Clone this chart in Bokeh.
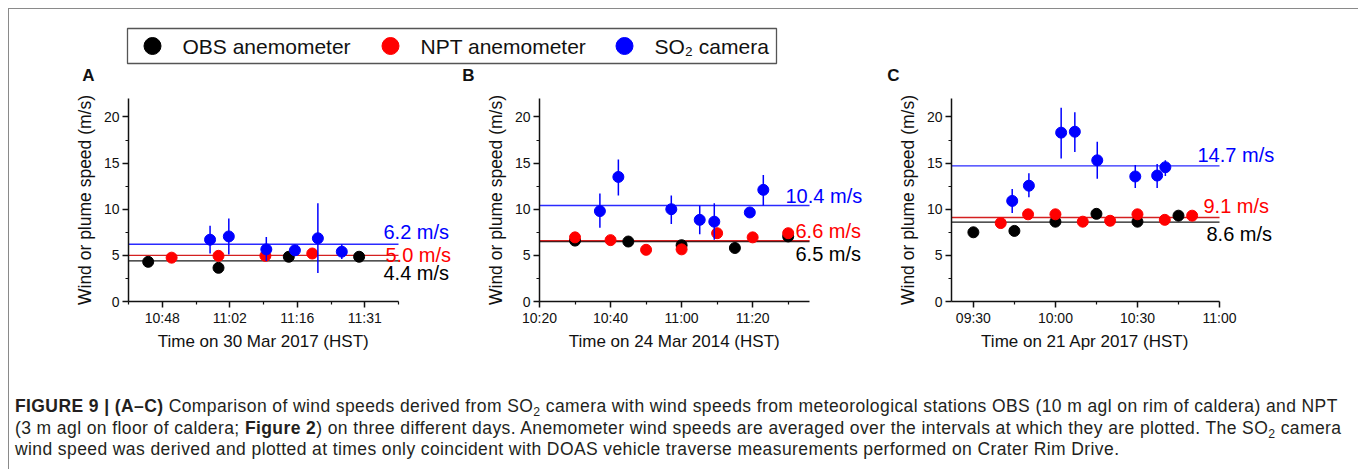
from bokeh.plotting import figure
from bokeh.models import Range1d, FixedTicker, LabelSet, ColumnDataSource, Div, Title
from bokeh.layouts import column, row
from bokeh.embed import file_html
from bokeh.resources import INLINE
from bokeh.core.properties import value

FONT = "Liberation Sans"

# ---------------- data ----------------
series_names = ["OBS anemometer", "NPT anemometer", "SO\u2082 camera"]
series_colors = ["#000000", "#ff0000", "#0000ff"]
mean_line_colors = ["#1a1a1a", "#d42020", "#2a2aff"]
panel_letters = ["A", "B", "C"]

# Panel A : 30 Mar 2017, time in minutes after midnight (HST)
a_obs_t = [645, 660, 675, 690]
a_obs_v = [4.3, 3.65, 4.85, 4.85]
a_npt_t = [650, 660, 670, 680]
a_npt_v = [4.75, 4.95, 4.95, 5.2]
a_cam_t = [658.2, 662.2, 670.2, 676.3, 681.2, 686.3]
a_cam_v = [6.7, 7.05, 5.65, 5.55, 6.85, 5.4]
a_cam_lo = [5.2, 5.1, 4.4, 5.2, 3.1, 4.6]
a_cam_hi = [8.2, 9.0, 7.0, 5.9, 10.65, 6.2]
a_means = [4.4, 5.0, 6.2]
a_range = [640.8, 698.4]
a_ticks = [648.0, 662.4, 676.8, 691.2]
a_minor = [640.8, 655.2, 669.6, 684.0, 698.4]
a_tick_labels = ["10:48", "11:02", "11:16", "11:31"]
a_xlabel = "Time on 30 Mar 2017 (HST)"

# Panel B : 24 Mar 2014
b_obs_t = [630, 645, 660, 675, 690]
b_obs_v = [6.6, 6.5, 6.1, 5.8, 7.05]
b_npt_t = [630, 640, 650, 660, 670, 680, 690]
b_npt_v = [6.95, 6.65, 5.6, 5.65, 7.4, 6.95, 7.4]
b_cam_t = [637.0, 642.2, 657.1, 665.1, 669.2, 679.2, 683.0]
b_cam_v = [9.8, 13.5, 10.0, 8.85, 8.65, 9.65, 12.1]
b_cam_lo = [8.0, 11.5, 8.4, 7.3, 6.7, 9.2, 10.4]
b_cam_hi = [11.7, 15.4, 11.5, 10.4, 10.65, 10.1, 13.7]
b_means = [6.5, 6.6, 10.4]
b_range = [620, 696]
b_ticks = [620, 640, 660, 680]
b_minor = [630, 650, 670, 690]
b_tick_labels = ["10:20", "10:40", "11:00", "11:20"]
b_xlabel = "Time on 24 Mar 2014 (HST)"

# Panel C : 21 Apr 2017
c_obs_t = [570, 585, 600, 615, 630, 645]
c_obs_v = [7.5, 7.65, 8.65, 9.5, 8.65, 9.3]
c_npt_t = [580, 590, 600, 610, 620, 630, 640, 650]
c_npt_v = [8.5, 9.45, 9.45, 8.65, 8.75, 9.45, 8.85, 9.3]
c_cam_t = [584.2, 590.3, 602.1, 607.1, 615.3, 629.2, 637.2, 640.2]
c_cam_v = [10.9, 12.55, 18.3, 18.4, 15.3, 13.55, 13.65, 14.55]
c_cam_lo = [9.6, 11.3, 15.5, 16.2, 13.3, 12.3, 12.3, 13.6]
c_cam_hi = [12.2, 13.9, 21.0, 20.5, 17.3, 14.8, 14.9, 15.3]
c_means = [8.6, 9.1, 14.7]
c_range = [562, 660]
c_ticks = [570, 600, 630, 660]
c_minor = [585, 615, 645]
c_tick_labels = ["09:30", "10:00", "10:30", "11:00"]
c_xlabel = "Time on 21 Apr 2017 (HST)"

y_ticks = [0, 5, 10, 15, 20]
y_minor = [2.5, 7.5, 12.5, 17.5]
y_label = "Wind or plume speed (m/s)"

# approximate Arial / Liberation Sans advance widths (em) for centring texts
_ADV = {" ": .278, "(": .333, ")": .333, "/": .278, ".": .278, "A": .667, "H": .722,
        "M": .833, "S": .667, "T": .611, "a": .556, "e": .556, "i": .222, "m": .833,
        "n": .556, "o": .556, "p": .556, "r": .333}


def text_width(s, size):
    return sum(_ADV.get(ch, .556) for ch in s) * size


def make_panel(xr, ticks, minor, tick_labels, xlabel,
               obs_t, obs_v, npt_t, npt_v, cam_t, cam_v, cam_lo, cam_hi, means,
               left, frame_w, right, lab_dx, lab_dy):
    # the frame is extended to the right (beyond the axis end) so that the
    # "x.x m/s" labels are drawn inside it; the axis itself is bounded to xr
    px_per_unit = frame_w / (xr[1] - xr[0])
    view_end = xr[1] + right / px_per_unit
    p = figure(width=left + frame_w + right, height=276,
               x_range=Range1d(xr[0], view_end), y_range=Range1d(0, 22),
               min_border_left=left, min_border_right=0,
               min_border_top=14, min_border_bottom=59,
               output_backend="svg", toolbar_location=None)
    p.outline_line_color = None
    p.xgrid.visible = False
    p.ygrid.visible = False
    p.background_fill_color = "white"
    p.border_fill_color = "white"

    for ax in (p.xaxis[0], p.yaxis[0]):
        ax.axis_line_width = 1.5
        ax.axis_line_color = "#111111"
        ax.major_tick_line_width = 1.5
        ax.major_tick_line_color = "#111111"
        ax.minor_tick_line_width = 1.2
        ax.minor_tick_line_color = "#111111"
        ax.major_tick_out = 6
        ax.major_tick_in = 0
        ax.minor_tick_out = 3
        ax.minor_tick_in = 0
        ax.major_label_text_font = FONT
        ax.major_label_text_font_size = "14px"
        ax.major_label_text_color = "#111111"
        ax.axis_label_text_font = FONT
        ax.axis_label_text_font_size = "17.5px"
        ax.axis_label_text_font_style = "normal"
        ax.axis_label_text_color = "#111111"

    p.yaxis.ticker = FixedTicker(ticks=y_ticks, minor_ticks=y_minor)
    p.yaxis.axis_label = y_label
    p.yaxis.major_label_standoff = 3
    p.yaxis.axis_label_standoff = 6
    p.xaxis.ticker = FixedTicker(ticks=ticks, minor_ticks=minor)
    p.xaxis.major_label_overrides = {t: l for t, l in zip(ticks, tick_labels)}
    p.xaxis.bounds = (xr[0], xr[1])
    p.xaxis.major_label_standoff = 2

    # x-axis title, centred under the bounded axis (not the extended frame)
    p.add_layout(Title(text=xlabel, align="left",
                       offset=frame_w / 2 - text_width(xlabel, 17) / 2,
                       text_font=FONT, text_font_size="17px",
                       text_font_style="normal", text_color="#111111",
                       vertical_align="top", standoff=6), "below")

    # mean lines (OBS, NPT, camera) across the axis range
    n = len(means)
    p.segment(x0=[xr[0]] * n, y0=means, x1=[xr[1]] * n, y1=means,
              line_color=mean_line_colors, line_width=1.4)
    p.scatter(obs_t, obs_v, size=11, color=series_colors[0])
    p.scatter(npt_t, npt_v, size=11, color=series_colors[1])
    p.segment(x0=cam_t, y0=cam_lo, x1=cam_t, y1=cam_hi,
              line_color=series_colors[2], line_width=1.5)
    p.scatter(cam_t, cam_v, size=11, color=series_colors[2])

    src = ColumnDataSource(dict(
        x=[xr[1]] * n, y=means,
        text=[f"{m:.1f} m/s" for m in means],
        color=series_colors, dx=lab_dx, dy=lab_dy))
    p.add_layout(LabelSet(x="x", y="y", text="text", source=src,
                          text_color="color", x_offset="dx", y_offset="dy",
                          text_font=value(FONT), text_font_size="20px",
                          text_baseline="middle"))
    return p


pA = make_panel(a_range, a_ticks, a_minor, a_tick_labels, a_xlabel,
                a_obs_t, a_obs_v, a_npt_t, a_npt_v, a_cam_t, a_cam_v, a_cam_lo, a_cam_hi,
                a_means, 119, 270, 57, [-15, -13, -15], [-12, 0, 12])
pB = make_panel(b_range, b_ticks, b_minor, b_tick_labels, b_xlabel,
                b_obs_t, b_obs_v, b_npt_t, b_npt_v, b_cam_t, b_cam_v, b_cam_lo, b_cam_hi,
                b_means, 84, 270, 71, [-14, -14, -24], [-12, 10, 10])
pC = make_panel(c_range, c_ticks, c_minor, c_tick_labels, c_xlabel,
                c_obs_t, c_obs_v, c_npt_t, c_npt_v, c_cam_t, c_cam_v, c_cam_lo, c_cam_hi,
                c_means, 71, 268, 133, [-13, -16, -22], [-11.5, 12, 10.5])

# ---------------- legend strip (also carries the panel letters) ----------------
W = 1343
H_TOP = 75
lp = figure(width=W, height=H_TOP, x_range=Range1d(0, W), y_range=Range1d(0, H_TOP),
            min_border=0, x_axis_type=None, y_axis_type=None,
            output_backend="svg", toolbar_location=None)
lp.outline_line_color = None
lp.background_fill_color = "white"
lp.border_fill_color = "white"
leg_dot_x = [143, 381, 615]
leg_txt_x = [173, 411, 645]
leg_y = 38.5
lp.quad(left=[118], right=[767], bottom=[21], top=[56],
        fill_color=None, line_color="#555555", line_width=1.3)
lp.scatter(x=leg_dot_x, y=[leg_y] * 3, size=17, color=series_colors)
lp.text(x=leg_txt_x, y=[leg_y] * 3, text=series_names,
        text_font=value(FONT), text_font_size="21px",
        text_baseline="middle", text_color="#111111")
letter_x = [79, 459, 884]
lp.text(x=letter_x, y=[9] * 3, text=panel_letters,
        text_font=value(FONT), text_font_size="17px", text_font_style="bold",
        text_align="center", text_baseline="middle", text_color="#111111")

# ---------------- caption ----------------
SUB = '<sub style="font-size:70%;line-height:0;vertical-align:-0.3em;">2</sub>'
caption_html = (
    '<div style="font-family:\'Liberation Sans\',Arial,sans-serif;font-size:17.5px;'
    'letter-spacing:0.4px;line-height:21.5px;color:#231f20;white-space:nowrap;'
    'margin:0;padding:31px 0 0 1px;">'
    '<b>FIGURE 9 | (A\u2013C)</b> Comparison of wind speeds derived from SO' + SUB + ' camera '
    'with wind speeds from meteorological stations OBS (10 m agl on rim of caldera) and NPT<br>'
    '(3 m agl on floor of caldera; <b>Figure 2</b>) on three different days. Anemometer wind speeds '
    'are averaged over the intervals at which they are plotted. The SO' + SUB + ' camera<br>'
    'wind speed was derived and plotted at times only coincident with DOAS vehicle traverse '
    'measurements performed on Crater Rim Drive.</div>'
)
cap = Div(text=caption_html, width=W, height=105)

root = column(lp, row(pA, pB, pC), cap,
              styles={"border-top": "1px solid #8a8a8a",
                      "border-left": "1px solid #8a8a8a",
                      "border-right": "1px solid #8a8a8a",
                      "margin-left": "8px", "margin-top": "8px"})

open("out.html", "w").write(file_html(root, INLINE))
